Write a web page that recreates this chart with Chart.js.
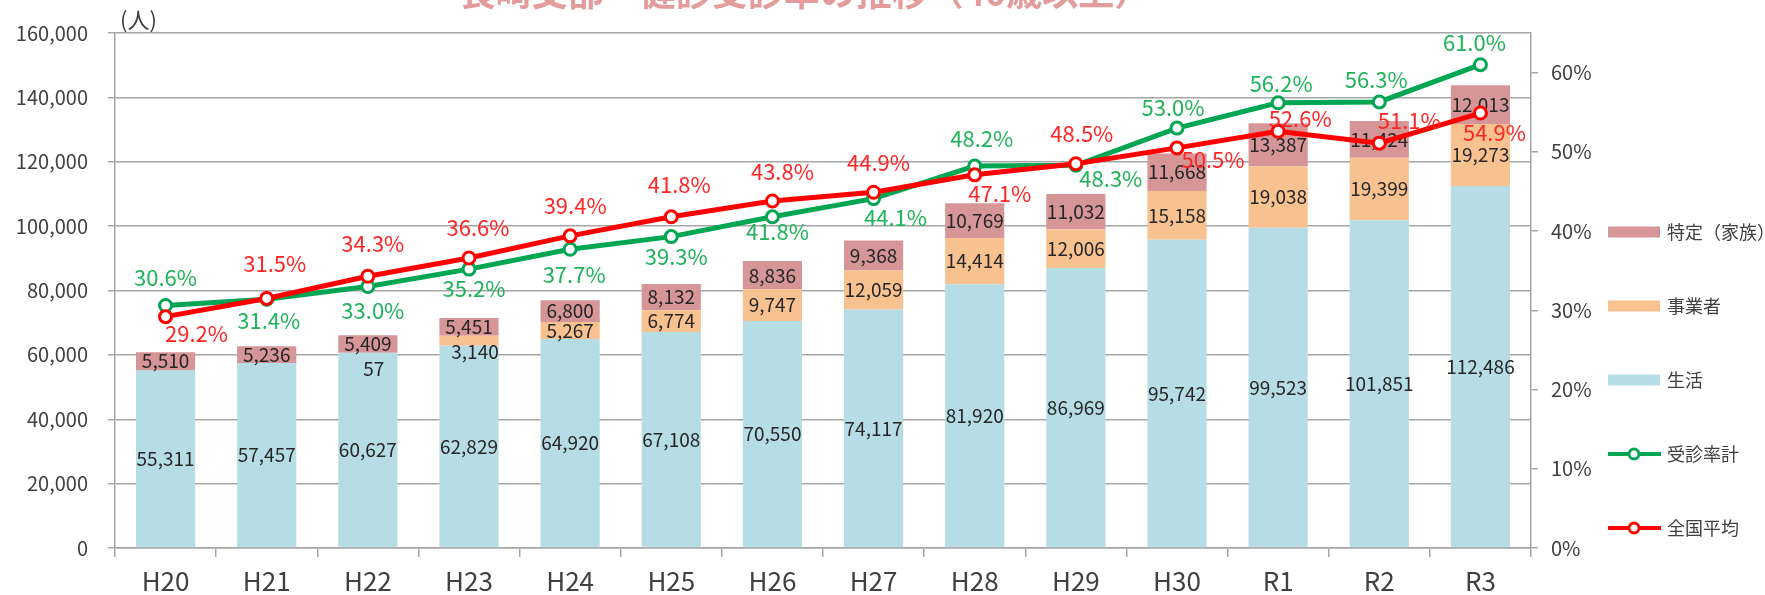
<!DOCTYPE html>
<html lang="ja">
<head>
<meta charset="utf-8">
<title>長崎支部 健診受診率の推移</title>
<script src="https://cdn.jsdelivr.net/npm/chart.js@4.4.1/dist/chart.umd.min.js"></script>
<style>
  html, body { margin: 0; padding: 0; background: #fff; overflow: hidden; }
  #wrap { position: relative; width: 1765px; height: 595px; }
</style>
</head>
<body>
<div id="wrap"><canvas id="chart" width="1765" height="595"></canvas></div>
<script>
// 年度
const years = ["H20", "H21", "H22", "H23", "H24", "H25", "H26", "H27", "H28", "H29", "H30", "R1", "R2", "R3"];

// 受診者数（人）
const seikatsu = [55311, 57457, 60627, 62829, 64920, 67108, 70550, 74117, 81920, 86969, 95742, 99523, 101851, 112486];
const jigyousha = [null, null, 57, 3140, 5267, 6774, 9747, 12059, 14414, 12006, 15158, 19038, 19399, 19273];
const tokutei = [5510, 5236, 5409, 5451, 6800, 8132, 8836, 9368, 10769, 11032, 11668, 13387, 11424, 12013];

// 受診率（%）
const jushinRate = [30.6, 31.4, 33.0, 35.2, 37.7, 39.3, 41.8, 44.1, 48.2, 48.3, 53.0, 56.2, 56.3, 61.0];
const zenkokuAvg = [29.2, 31.5, 34.3, 36.6, 39.4, 41.8, 43.8, 44.9, 47.1, 48.5, 50.5, 52.6, 51.1, 54.9];

const rightTicks = [0, 10, 20, 30, 40, 50, 60];

// where each % label sits relative to its point (dx, dy)
const greenLabelPos = [[0, -28], [2, 21], [5, 24], [5, 20], [4, 25], [5, 20], [5, 15], [22, 19], [7, -27], [35, 13], [-4, -20], [3, -19], [-3, -22], [-6, -22]];
const redLabelPos = [[31, 17], [8, -35], [5, -33], [9, -30], [5, -30], [8, -32], [10, -29], [5, -30], [25, 19], [6, -30], [36, 12], [22, -13], [30, -22], [14, 20]];

const FONT = '"Noto Sans CJK JP", "Noto Sans", sans-serif';
const GRID = "#a6a6a6";
const TEXT = "#404040";

const labelPlugin = {
    id: "labels",
    afterDatasetDraw(chart, args) {
        // bar labels go under the lines
        if (args.index !== 0) return;
        const ctx = chart.ctx;
        ctx.save();
        ctx.textAlign = "center";
        ctx.textBaseline = "middle";
        ctx.font = "19px " + FONT;
        ctx.fillStyle = "#262626";
        [0, 1, 2].forEach(di => {
            chart.getDatasetMeta(di).data.forEach((bar, i) => {
                const v = chart.data.datasets[di].data[i];
                if (v == null) return;
                const h = bar.base - bar.y;
                let x = bar.x, y = bar.y + h / 2;
                if (h < 14) { x += 6; y = bar.y + 16; }
                ctx.fillText(v.toLocaleString("en-US"), x, y);
            });
        });
        ctx.restore();
    },
    afterDatasetsDraw(chart) {
        const ctx = chart.ctx;
        ctx.save();
        ctx.textAlign = "center";
        ctx.textBaseline = "middle";
        ctx.font = "22px " + FONT;
        [[3, greenLabelPos, "#1fb35a"], [4, redLabelPos, "#ff2626"]].forEach(([di, pos, col]) => {
            ctx.fillStyle = col;
            chart.getDatasetMeta(di).data.forEach((pt, i) => {
                const v = chart.data.datasets[di].data[i];
                ctx.fillText(v.toFixed(1) + "%", pt.x + pos[i][0], pt.y + pos[i][1]);
            });
        });
        ctx.restore();
    },
    afterDraw(chart) {
        const ctx = chart.ctx;
        const area = chart.chartArea;
        ctx.save();

        // title, cut off at the top like the original
        ctx.font = "bold 36px " + FONT;
        ctx.fillStyle = "#e39c9c";
        ctx.textAlign = "center";
        ctx.textBaseline = "alphabetic";
        ctx.fillText("長崎支部　健診受診率の推移（40歳以上）", 805, 6);

        // unit
        ctx.font = "22px " + FONT;
        ctx.fillStyle = TEXT;
        ctx.textAlign = "left";
        ctx.textBaseline = "middle";
        ctx.fillText("(人)", area.left + 5, 20);

        // legend
        const order = [2, 1, 0, 3, 4];
        const x0 = area.right + 77;
        ctx.font = "18px " + FONT;
        order.forEach((di, k) => {
            const ds = chart.data.datasets[di];
            const y = 232 + k * 74;
            if (ds.type === "line") {
                ctx.strokeStyle = ds.borderColor;
                ctx.lineWidth = 4;
                ctx.beginPath();
                ctx.moveTo(x0, y);
                ctx.lineTo(x0 + 53, y);
                ctx.stroke();
                ctx.beginPath();
                ctx.arc(x0 + 26, y, 5, 0, Math.PI * 2);
                ctx.fillStyle = "#fff";
                ctx.fill();
                ctx.lineWidth = 3;
                ctx.stroke();
            } else {
                ctx.fillStyle = ds.backgroundColor;
                ctx.fillRect(x0, y - 5.5, 52, 11);
            }
            ctx.fillStyle = TEXT;
            ctx.fillText(ds.label, x0 + 59, y);
        });
        ctx.restore();
    }
};

const barDs = (label, data, color) => ({
    type: "bar",
    label: label,
    data: data,
    backgroundColor: color,
    stack: "count",
    yAxisID: "y",
    order: 2,
    barPercentage: 0.585,
    categoryPercentage: 1
});

const lineDs = (label, data, color, order) => ({
    type: "line",
    label: label,
    data: data,
    borderColor: color,
    borderWidth: 5,
    pointRadius: 6,
    pointBorderWidth: 3,
    pointBackgroundColor: "#fff",
    pointBorderColor: color,
    tension: 0,
    yAxisID: "y2",
    order: order
});

const ctx = document.getElementById("chart").getContext("2d");

new Chart(ctx, {
    type: "bar",
    data: {
        labels: years,
        datasets: [
            barDs("生活", seikatsu, "#b6dce6"),
            barDs("事業者", jigyousha, "#f8c190"),
            barDs("特定（家族）", tokutei, "#d69596"),
            lineDs("受診率計", jushinRate, "#00a651", 1),
            lineDs("全国平均", zenkokuAvg, "#ff0000", 0)
        ]
    },
    options: {
        responsive: false,
        devicePixelRatio: 1,
        animation: false,
        layout: { padding: { top: 33, left: 0, right: 0, bottom: 0 } },
        plugins: {
            legend: { display: false },
            tooltip: { enabled: false },
            title: { display: false }
        },
        scales: {
            x: {
                stacked: true,
                grid: { offset: true, drawOnChartArea: false, tickLength: 9, color: GRID, lineWidth: 1.5 },
                border: { color: GRID, width: 1.5 },
                ticks: { font: { family: FONT, size: 26 }, color: TEXT, padding: 9 },
                afterFit: s => { s.height = 47; }
            },
            y: {
                stacked: true,
                position: "left",
                min: 0,
                max: 160000,
                ticks: {
                    stepSize: 20000,
                    font: { family: FONT, size: 20 },
                    color: TEXT,
                    padding: 20,
                    callback: v => v.toLocaleString("en-US")
                },
                grid: { color: GRID, lineWidth: 1.5, tickLength: 7 },
                border: { color: GRID, width: 1.5 },
                afterFit: s => { s.width = 115; }
            },
            y2: {
                position: "right",
                min: 0,
                max: 65,
                afterBuildTicks: axis => { axis.ticks = rightTicks.map(v => ({ value: v })); },
                ticks: {
                    font: { family: FONT, size: 20 },
                    color: TEXT,
                    padding: 13,
                    callback: v => v + "%"
                },
                grid: { drawOnChartArea: false, color: GRID, lineWidth: 1.5, tickLength: 7 },
                border: { color: GRID, width: 1.5 },
                afterFit: s => { s.width = 234; }
            }
        }
    },
    plugins: [labelPlugin]
});
</script>
</body>
</html>
